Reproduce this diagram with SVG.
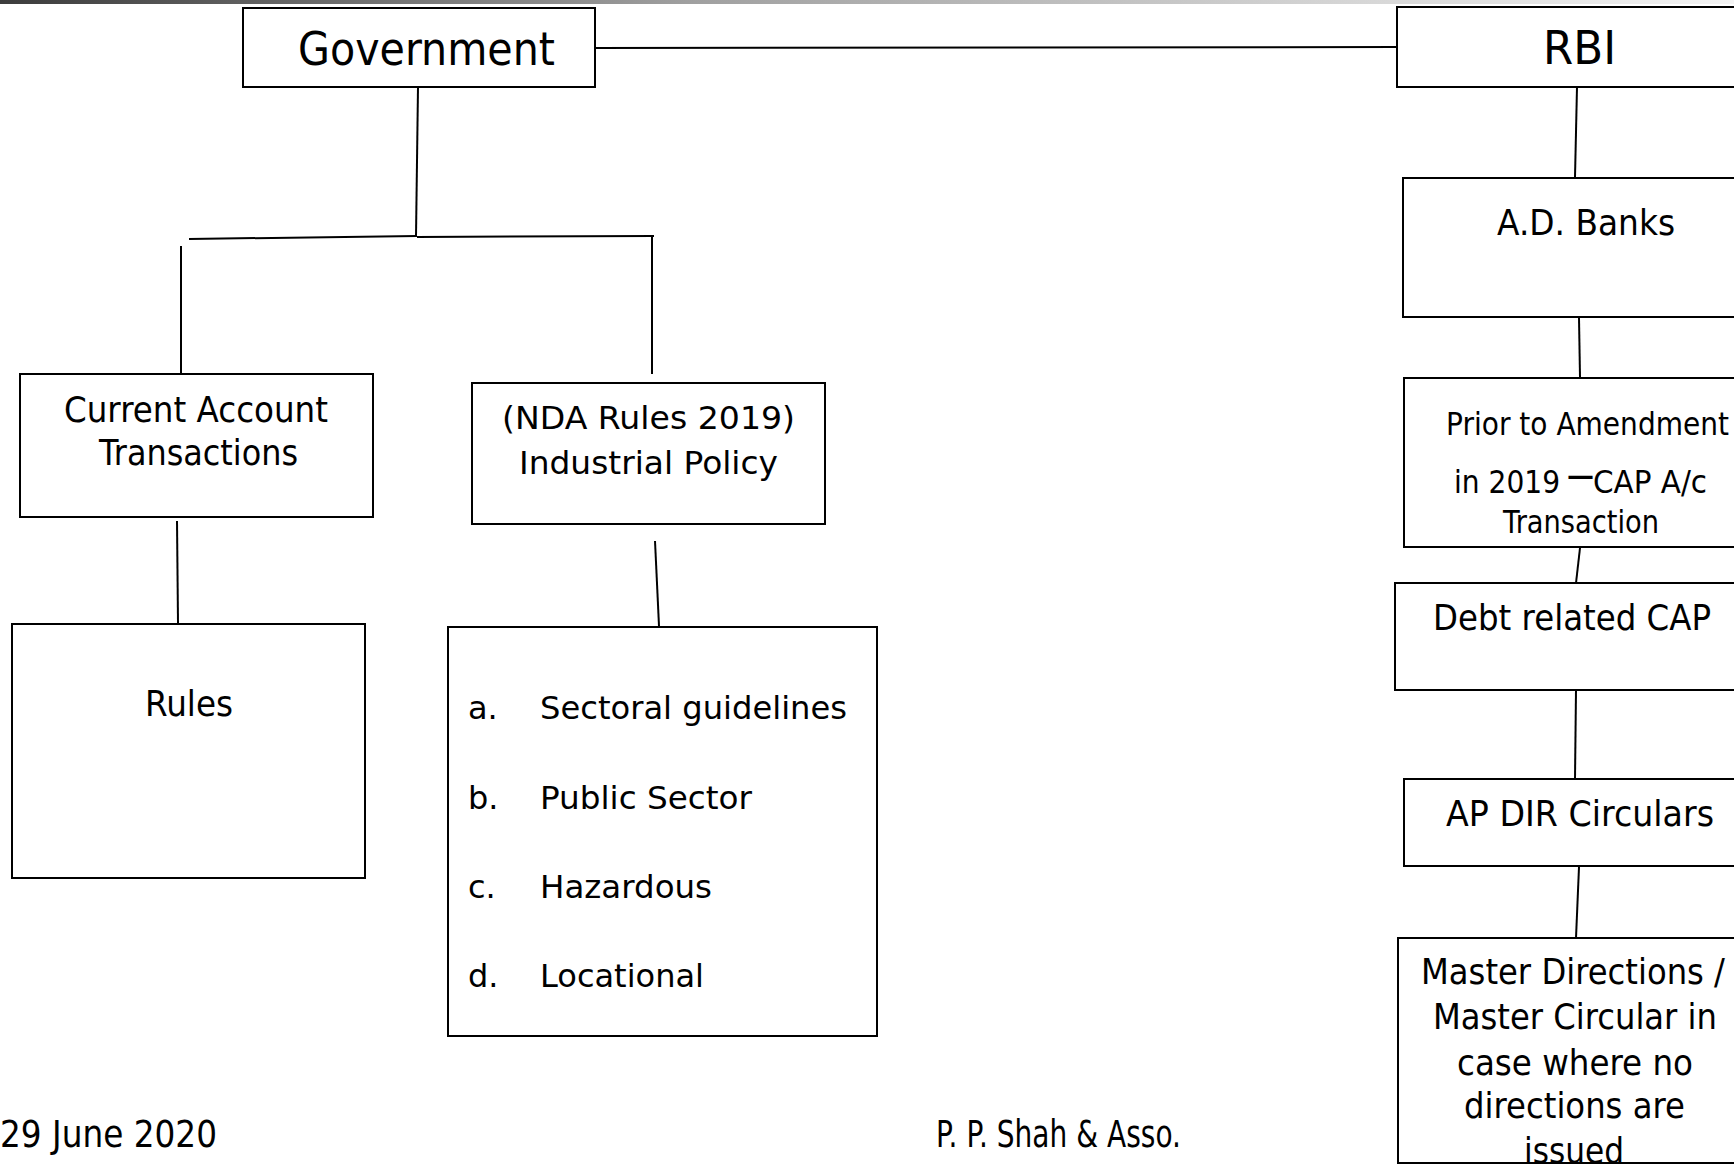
<svg xmlns="http://www.w3.org/2000/svg" width="1734" height="1164" viewBox="0 0 1734 1164">
  <style>
    .box { fill: #ffffff; stroke: #000000; stroke-width: 2; }
    .link { fill: none; stroke: #000000; stroke-width: 2; }
    .t { font-family: "DejaVu Sans", Verdana, sans-serif; fill: #000000; }
    .big { font-size: 47px; }
    .mid { font-size: 36px; }
    .sm { font-size: 32px; }
    .foot { font-size: 37px; }
  </style>
  <defs>
    <linearGradient id="topbar" x1="0" y1="0" x2="1" y2="0">
      <stop offset="0" stop-color="#3c3c3c"/>
      <stop offset="0.4" stop-color="#a0a0a0"/>
      <stop offset="1" stop-color="#f4f4f4"/>
    </linearGradient>
  </defs>

  <rect x="0" y="0" width="1734" height="1164" fill="#ffffff"/>
  <rect x="0" y="0" width="1734" height="4" fill="url(#topbar)"/>

  <!-- connectors -->
  <g id="connectors">
    <line class="link" x1="595" y1="48" x2="1397" y2="47"/>
    <line class="link" x1="418" y1="87" x2="416" y2="236"/>
    <line class="link" x1="189" y1="239" x2="417" y2="236"/>
    <line class="link" x1="417" y1="237" x2="654" y2="236"/>
    <line class="link" x1="181" y1="246" x2="181" y2="373"/>
    <line class="link" x1="652" y1="237" x2="652" y2="374"/>
    <line class="link" x1="177" y1="521" x2="178" y2="623"/>
    <line class="link" x1="655" y1="541" x2="659" y2="626"/>
    <line class="link" x1="1577" y1="87" x2="1575" y2="177"/>
    <line class="link" x1="1579" y1="318" x2="1580" y2="377"/>
    <line class="link" x1="1580" y1="548" x2="1576" y2="583"/>
    <line class="link" x1="1576" y1="690" x2="1575" y2="779"/>
    <line class="link" x1="1579" y1="867" x2="1576" y2="938"/>
  </g>

  <!-- government side -->
  <g id="government">
    <rect class="box" x="243" y="8" width="352" height="79"/>
    <text class="t big" x="298" y="65" textLength="257" lengthAdjust="spacingAndGlyphs">Government</text>
  </g>
  <g id="current-account">
    <rect class="box" x="20" y="374" width="353" height="143"/>
    <text class="t mid" x="64" y="422" textLength="264" lengthAdjust="spacingAndGlyphs">Current Account</text>
    <text class="t mid" x="99" y="465" textLength="199" lengthAdjust="spacingAndGlyphs">Transactions</text>
  </g>
  <g id="rules">
    <rect class="box" x="12" y="624" width="353" height="254"/>
    <text class="t mid" x="145" y="716" textLength="88" lengthAdjust="spacingAndGlyphs">Rules</text>
  </g>
  <g id="industrial-policy">
    <rect class="box" x="472" y="383" width="353" height="141"/>
    <text class="t sm" x="502" y="429" textLength="293" lengthAdjust="spacingAndGlyphs">(NDA Rules 2019)</text>
    <text class="t sm" x="519" y="474" textLength="259" lengthAdjust="spacingAndGlyphs">Industrial Policy</text>
  </g>
  <g id="policy-list">
    <rect class="box" x="448" y="627" width="429" height="409"/>
    <text class="t sm" x="468" y="719">a.</text>
    <text class="t sm" x="540" y="719" textLength="307" lengthAdjust="spacingAndGlyphs">Sectoral guidelines</text>
    <text class="t sm" x="468" y="809">b.</text>
    <text class="t sm" x="540" y="809" textLength="212" lengthAdjust="spacingAndGlyphs">Public Sector</text>
    <text class="t sm" x="468" y="898">c.</text>
    <text class="t sm" x="540" y="898" textLength="172" lengthAdjust="spacingAndGlyphs">Hazardous</text>
    <text class="t sm" x="468" y="987">d.</text>
    <text class="t sm" x="540" y="987" textLength="164" lengthAdjust="spacingAndGlyphs">Locational</text>
  </g>

  <!-- RBI side -->
  <g id="rbi">
    <rect class="box" x="1397" y="7" width="380" height="80"/>
    <text class="t big" x="1543" y="64" textLength="73" lengthAdjust="spacingAndGlyphs">RBI</text>
  </g>
  <g id="ad-banks">
    <rect class="box" x="1403" y="178" width="374" height="139"/>
    <text class="t mid" x="1497" y="235" textLength="178" lengthAdjust="spacingAndGlyphs">A.D. Banks</text>
  </g>
  <g id="prior-amendment">
    <rect class="box" x="1404" y="378" width="373" height="169"/>
    <text class="t sm" x="1446" y="435" textLength="283" lengthAdjust="spacingAndGlyphs">Prior to Amendment</text>
    <text class="t sm" x="1454" y="493" textLength="106" lengthAdjust="spacingAndGlyphs">in 2019</text>
    <text class="t" x="1567" y="485" font-size="27" font-weight="bold">—</text>
    <text class="t sm" x="1593" y="493" textLength="114" lengthAdjust="spacingAndGlyphs">CAP A/c</text>
    <text class="t sm" x="1503" y="533" textLength="156" lengthAdjust="spacingAndGlyphs">Transaction</text>
  </g>
  <g id="debt-cap">
    <rect class="box" x="1395" y="583" width="382" height="107"/>
    <text class="t mid" x="1433" y="630" textLength="278" lengthAdjust="spacingAndGlyphs">Debt related CAP</text>
  </g>
  <g id="ap-dir">
    <rect class="box" x="1404" y="779" width="373" height="87"/>
    <text class="t mid" x="1446" y="826" textLength="268" lengthAdjust="spacingAndGlyphs">AP DIR Circulars</text>
  </g>
  <g id="master-directions">
    <rect class="box" x="1398" y="938" width="379" height="225"/>
    <text class="t mid" x="1421" y="984" textLength="304" lengthAdjust="spacingAndGlyphs">Master Directions /</text>
    <text class="t mid" x="1433" y="1029" textLength="284" lengthAdjust="spacingAndGlyphs">Master Circular in</text>
    <text class="t mid" x="1457" y="1075" textLength="236" lengthAdjust="spacingAndGlyphs">case where no</text>
    <text class="t mid" x="1464" y="1118" textLength="221" lengthAdjust="spacingAndGlyphs">directions are</text>
    <text class="t mid" x="1524" y="1163" textLength="100" lengthAdjust="spacingAndGlyphs">issued</text>
    <line class="link" x1="1398" y1="1163" x2="1734" y2="1163"/>
  </g>

  <!-- footer -->
  <g id="footer">
    <text class="t foot" x="0" y="1147" textLength="217" lengthAdjust="spacingAndGlyphs">29 June 2020</text>
    <text class="t foot" x="936" y="1147" textLength="245" lengthAdjust="spacingAndGlyphs">P. P. Shah &amp; Asso.</text>
  </g>
</svg>
